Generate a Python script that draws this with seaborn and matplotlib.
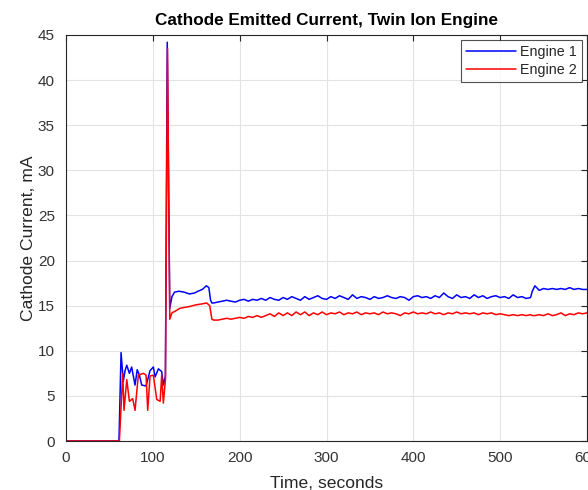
import numpy as np
import pandas as pd
import matplotlib
matplotlib.use("Agg")
import matplotlib.pyplot as plt
import seaborn as sns

# ---- data ----
t_early_1 = [0, 61, 63.4, 66, 68, 70, 73, 75.6, 79.5, 82, 84.5, 87.2, 92.2, 96.8,
             100.6, 102.6, 106.4, 110.2, 112.1, 114.5, 116.6, 119.5, 122, 125,
             130, 136, 142, 148, 152, 157, 161.6, 164.5, 166.5, 168]
i_early_1 = [0, 0, 9.8, 6.6, 7.8, 8.4, 7.5, 8.2, 6.2, 7.9, 7.3, 6.2, 6.1, 7.8,
             8.2, 7.1, 8.0, 7.7, 6.2, 7.2, 44.2, 14.7, 16.0, 16.5,
             16.6, 16.5, 16.3, 16.4, 16.6, 16.8, 17.2, 17.0, 15.6, 15.3]

t_early_2 = [0, 61.5, 65.3, 66.8, 70, 73, 76.8, 79.5, 83.3, 89.1, 92.2, 94.1,
             96.8, 100.6, 104.5, 108.4, 110.2, 112.1, 114.5, 116.9, 119.5, 122,
             126, 131, 136, 142, 150, 157, 162, 165.5, 168]
i_early_2 = [0, 0, 7.5, 3.4, 6.8, 4.4, 4.7, 3.4, 7.3, 7.5, 7.3, 3.4,
             7.2, 7.3, 4.6, 4.4, 7.3, 4.2, 6.8, 43.5, 13.5, 14.2,
             14.4, 14.7, 14.8, 14.9, 15.1, 15.2, 15.3, 15.0, 13.5]

t_steady = [170, 175, 180, 185, 190, 195, 200, 205, 210, 215, 220, 225, 230, 235,
            240, 245, 250, 255, 260, 265, 270, 275, 280, 285, 290, 295, 300, 305,
            310, 315, 320, 325, 330, 335, 340, 345, 350, 355, 360, 365, 370, 375,
            380, 385, 390, 395, 400, 405, 410, 415, 420, 425, 430, 435, 440, 445,
            450, 455, 460, 465, 470, 475, 480, 485, 490, 495, 500, 505, 510, 515,
            520, 525, 530, 535, 537, 540, 545, 550, 555, 560, 565, 570, 575, 580,
            585, 590, 595, 600]
i_steady_1 = [15.3, 15.4, 15.5, 15.6, 15.5, 15.4, 15.6, 15.7, 15.5, 15.7, 15.6, 15.8, 15.6, 15.9,
              15.7, 15.6, 15.9, 15.7, 16.0, 15.8, 15.6, 16.0, 15.7, 15.9, 16.1, 15.8, 15.7, 16.0,
              15.8, 16.1, 15.9, 15.7, 16.2, 15.8, 16.0, 15.9, 15.7, 16.0, 15.8, 15.9, 16.1, 15.9,
              15.8, 16.0, 15.9, 15.6, 16.0, 16.1, 15.9, 16.0, 15.8, 16.1, 15.9, 16.4, 16.0, 15.8,
              16.2, 15.9, 16.0, 15.8, 16.2, 15.9, 16.1, 15.8, 16.0, 16.1, 15.9, 16.0, 15.8, 16.2,
              15.9, 16.0, 15.8, 15.9, 16.6, 17.2, 16.7, 16.9, 16.8, 16.9, 16.8, 16.9, 16.8, 17.0,
              16.8, 16.9, 16.8, 16.8]
i_steady_2 = [13.4, 13.4, 13.5, 13.6, 13.5, 13.6, 13.7, 13.6, 13.8, 13.7, 13.9, 13.7, 13.9, 14.1,
              13.8, 14.2, 13.9, 14.2, 13.9, 14.3, 14.0, 14.3, 13.9, 14.2, 14.0, 14.3, 14.0, 14.2,
              14.1, 14.3, 14.0, 14.2, 14.1, 14.3, 14.0, 14.2, 14.1, 14.2, 14.0, 14.3, 14.1, 14.2,
              14.1, 13.9, 14.2, 14.1, 14.3, 14.1, 14.2, 14.1, 14.3, 14.1, 14.2, 14.0, 14.2, 14.1,
              14.3, 14.1, 14.2, 14.1, 14.2, 14.0, 14.2, 14.1, 14.2, 14.0, 14.1, 14.0, 13.9, 14.0,
              13.9, 14.0, 13.9, 14.0, 13.9, 13.9, 14.0, 13.9, 14.1, 13.9, 14.0, 14.2, 13.9, 14.1,
              14.0, 14.2, 14.1, 14.2]

series_names = ["Engine 1", "Engine 2"]
x_ticks = [0, 100, 200, 300, 400, 500, 600]
y_ticks = [0, 5, 10, 15, 20, 25, 30, 35, 40, 45]

df = pd.concat([
    pd.DataFrame({"t": t_early_1 + t_steady, "i": i_early_1 + i_steady_1, "Engine": series_names[0]}),
    pd.DataFrame({"t": t_early_2 + t_steady, "i": i_early_2 + i_steady_2, "Engine": series_names[1]}),
], ignore_index=True)

sns.set_theme(style="white")
plt.rcParams["font.family"] = ["Liberation Sans", "DejaVu Sans"]

fig = plt.figure(figsize=(5.88, 4.90), dpi=100)
ax = fig.add_axes([66 / 588, 1 - 441 / 490, (587 - 66) / 588, (441 - 35) / 490])

sns.lineplot(data=df, x="t", y="i", hue="Engine", palette=["#0000ff", "#ff0000"],
             estimator=None, sort=False, linewidth=1.1, ax=ax)

ax.set_xlim(0, 600)
ax.set_ylim(0, 45)
ax.set_xticks(x_ticks)
ax.set_yticks(y_ticks)
ax.grid(True, color="#e3e3e3", linewidth=0.8)
ax.set_axisbelow(True)
for s in ax.spines.values():
    s.set_color("#262626")
    s.set_linewidth(0.8)
    s.set_visible(True)
ax.tick_params(direction="in", length=4, width=0.8, color="#262626",
               top=True, right=True, labelsize=11, labelcolor="#333333")
ax.tick_params(axis="x", pad=7)
ax.tick_params(axis="y", pad=8)
ax.set_xlabel("Time, seconds", fontsize=12.6, color="#262626", labelpad=8)
ax.set_ylabel("Cathode Current, mA", fontsize=12.6, color="#262626", labelpad=1)
ax.set_title("Cathode Emitted Current, Twin Ion Engine", fontsize=12.3, fontweight="bold",
             color="black", pad=7)

leg = ax.legend(loc="upper right", fontsize=10.3, frameon=True, fancybox=False,
                edgecolor="#262626", handlelength=3.5, borderpad=0.35, labelspacing=0.3,
                handletextpad=0.3, borderaxespad=0.35)
leg.get_frame().set_linewidth(0.8)
leg.set_title(None)

fig.savefig("out.png", dpi=100)
